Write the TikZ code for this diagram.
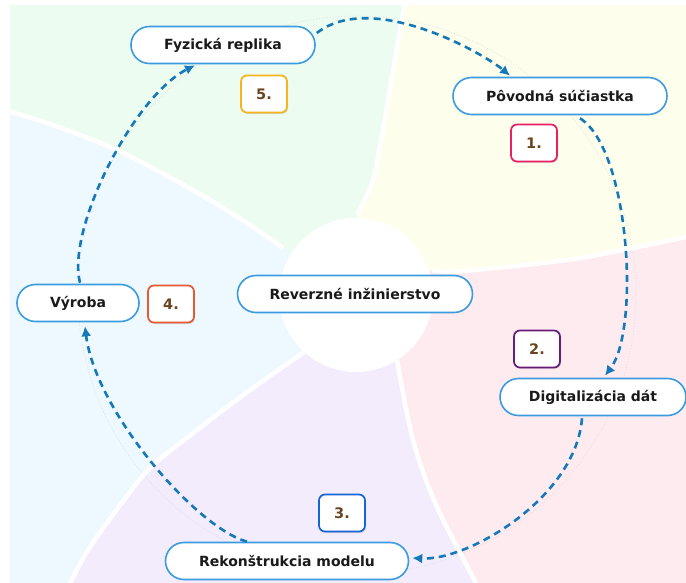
\documentclass[tikz,border=0pt]{standalone}
\usepackage{fontspec}
\setmainfont{DejaVu Sans}
\usetikzlibrary{arrows.meta,shadows,calc}
\definecolor{secG}{RGB}{237,252,240}
\definecolor{secY}{RGB}{254,254,236}
\definecolor{secP}{RGB}{253,235,239}
\definecolor{secV}{RGB}{243,236,252}
\definecolor{secB}{RGB}{237,248,255}
\definecolor{nodeblue}{RGB}{58,155,222}
\definecolor{arrowblue}{RGB}{20,120,185}
\definecolor{textdark}{RGB}{26,26,26}
\definecolor{numbrown}{RGB}{105,68,30}
\definecolor{bOne}{RGB}{233,30,99}
\definecolor{bTwo}{RGB}{106,27,120}
\definecolor{bThree}{RGB}{21,101,216}
\definecolor{bFour}{RGB}{230,90,50}
\definecolor{bFive}{RGB}{244,180,26}
\definecolor{guide}{RGB}{222,222,222}
\begin{document}
\begin{tikzpicture}[x=1pt,y=-1pt,
  stage/.style={draw=nodeblue, line width=1.6pt, fill=white, rounded corners=18.5pt,
    minimum height=37pt, inner sep=0pt, text=textdark,
    font=\fontsize{14}{16}\selectfont\bfseries},
  badge/.style={fill=white, line width=1.7pt, rounded corners=6pt,
    minimum width=46pt, minimum height=37pt, inner sep=0pt, text=numbrown,
    font=\fontsize{14.5}{16}\selectfont\bfseries,
    drop shadow={shadow xshift=1pt, shadow yshift=-1.5pt, opacity=0.25}},
  flow/.style={draw=arrowblue, line width=2.6pt, dash pattern=on 7pt off 5pt,
    -{Latex[length=10pt,width=10pt]}},
  sepline/.style={white, line width=4.5pt}
]
\useasboundingbox (0,0) rectangle (686,583);
% background sectors
\begin{scope}
\clip (10,6) rectangle (686,583);
\def\Bone{(357,215) (373,180) (383,130) (394,65) (407,-10)}
\def\BoneR{(407,-10) (394,65) (383,130) (373,180) (357,215)}
\def\Btwo{(432,270) (463,271) (580,258) (700,234)}
\def\BtwoR{(700,234) (580,258) (463,271) (432,270)}
\def\Bthree{(397,360) (413,440) (437,507) (485,600)}
\def\BthreeR{(485,600) (437,507) (413,440) (397,360)}
\def\Bfour{(310,348) (250,390) (197,430) (150,468) (115,512) (85,555) (62,600)}
\def\BfourR{(62,600) (85,555) (115,512) (150,468) (197,430) (250,390) (310,348)}
\def\Bfive{(283,248) (250,225) (210,200) (160,172) (110,147) (50,124) (-10,106)}
\def\BfiveR{(-10,106) (50,124) (110,147) (160,172) (210,200) (250,225) (283,248)}
\fill[secY] (358,295) -- plot[smooth] coordinates {\Bone} -- (700,-10) -- plot[smooth] coordinates {\BtwoR} -- cycle;
\fill[secP] (358,295) -- plot[smooth] coordinates {\Btwo} -- (700,600) -- plot[smooth] coordinates {\BthreeR} -- cycle;
\fill[secV] (358,295) -- plot[smooth] coordinates {\Bthree} -- plot[smooth] coordinates {\BfourR} -- cycle;
\fill[secB] (358,295) -- plot[smooth] coordinates {\Bfour} -- (-10,600) -- plot[smooth] coordinates {\BfiveR} -- cycle;
\fill[secG] (358,295) -- plot[smooth] coordinates {\Bfive} -- (-10,-10) -- plot[smooth] coordinates {\BoneR} -- cycle;
\draw[guide, line width=0.8pt, dotted] (357,295) circle[radius=279];
\draw[sepline] plot[smooth] coordinates {\Bone};
\draw[sepline] plot[smooth] coordinates {\Btwo};
\draw[sepline] plot[smooth] coordinates {\Bthree};
\draw[sepline] plot[smooth] coordinates {\Bfour};
\draw[sepline] plot[smooth] coordinates {\Bfive};
\fill[white] (356,295) circle[radius=77];
\end{scope}

% stages
\node[stage, minimum width=184pt] (fyz) at (223,45) {Fyzická replika};
\node[stage, minimum width=214pt] (pov) at (560,96) {Pôvodná súčiastka};
\node[stage, minimum width=235pt] (rev) at (355,294) {Reverzné inžinierstvo};
\node[stage, minimum width=122pt] (vyr) at (78,303) {Výroba};
\node[stage, minimum width=186pt] (dig) at (593,397) {Digitalizácia dát};
\node[stage, minimum width=243pt] (rek) at (287,561) {Rekonštrukcia modelu};

% badges
\node[badge, draw=bFive]  (n5) at (264,94)  {5.};
\node[badge, draw=bOne]   (n1) at (534,143) {1.};
\node[badge, draw=bFour]  (n4) at (171,304) {4.};
\node[badge, draw=bTwo]   (n2) at (537,349) {2.};
\node[badge, draw=bThree] (n3) at (342,513) {3.};

% cycle arrows
\draw[flow] ($(fyz.east)+(1,-12)$) .. controls (372,-10) and (483,53) .. ($(pov.north)+(-50,-1)$);
\draw[flow] ($(pov.south)+(20,3)$) .. controls (630,150) and (640,330) .. ($(dig.north)+(12,-2)$);
\draw[flow] ($(dig.south)+(-11,2)$) .. controls (576,497) and (469,561) .. ($(rek.east)+(3,-3)$);
\draw[flow] ($(rek.north)+(-40,0)$) .. controls (195,527) and (95,410) .. ($(vyr.south)+(7,4)$);
\draw[flow] ($(vyr.north)+(2,-1)$) .. controls (66,229) and (134,96) .. ($(fyz.south)+(-28,1)$);
\end{tikzpicture}
\end{document}
